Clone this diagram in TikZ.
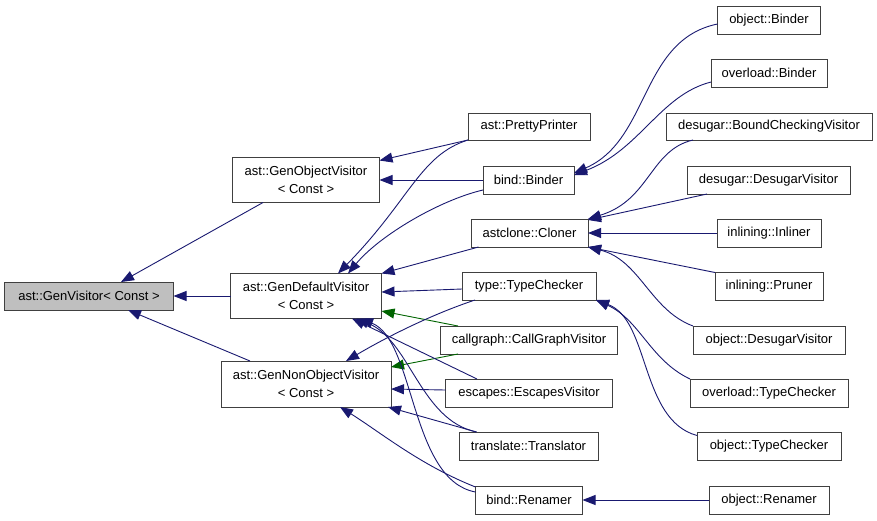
\documentclass[tikz,border=0pt]{standalone}
\usepackage{fontspec}
\setmainfont{Liberation Sans}
\usetikzlibrary{arrows.meta}
\definecolor{edgeblue}{HTML}{191970}
\definecolor{edgegreen}{HTML}{006400}
\definecolor{boxline}{HTML}{404040}
\definecolor{boxfill}{HTML}{BFBFBF}
\begin{document}
\begin{tikzpicture}[x=1pt,y=-1pt,
  cls/.style={draw=boxline,line width=1pt,fill=white,inner sep=0pt,outer sep=0pt,
    align=center,font=\fontsize{13}{17.5}\selectfont,minimum height=28pt},
  root/.style={cls,fill=boxfill},
  edge/.style={draw=edgeblue,line width=0.9pt,-{Triangle[length=13pt,width=10pt]}},
  gedge/.style={edge,draw=edgegreen,-{Triangle[length=13pt,width=10pt]}}]
\useasboundingbox (0,0) rectangle (877,520);
% level 0
\node[root,minimum width=169pt] (gv) at (89,296) {ast::GenVisitor{\textless} Const \textgreater};
% level 1
\node[cls,minimum width=147pt,minimum height=45pt] (gov) at (306,180) {ast::GenObjectVisitor\\\textless{} Const \textgreater};
\node[cls,minimum width=151pt,minimum height=45pt] (gdv) at (306,296) {ast::GenDefaultVisitor\\\textless{} Const \textgreater};
\node[cls,minimum width=170pt,minimum height=46pt] (gnov) at (306,384) {ast::GenNonObjectVisitor\\\textless{} Const \textgreater};
% level 2
\node[cls,minimum width=122pt,minimum height=27pt] (pp) at (529,126.5) {ast::PrettyPrinter};
\node[cls,minimum width=91pt] (bb) at (528.5,180) {bind::Binder};
\node[cls,minimum width=117pt] (cl) at (529.5,233) {astclone::Cloner};
\node[cls,minimum width=134pt] (tc) at (529,286) {type::TypeChecker};
\node[cls,minimum width=177pt] (cg) at (529,340) {callgraph::CallGraphVisitor};
\node[cls,minimum width=167pt] (ev) at (529,393) {escapes::EscapesVisitor};
\node[cls,minimum width=139pt] (tr) at (528.5,446) {translate::Translator};
\node[cls,minimum width=107pt] (rn) at (529,500) {bind::Renamer};
% level 3
\node[cls,minimum width=103pt] (ob) at (769,20) {object::Binder};
\node[cls,minimum width=116pt] (ovb) at (769,73) {overload::Binder};
\node[cls,minimum width=206pt,minimum height=27pt] (bcv) at (769,126.5) {desugar::BoundCheckingVisitor};
\node[cls,minimum width=163pt] (dv) at (768.5,180) {desugar::DesugarVisitor};
\node[cls,minimum width=104pt] (inl) at (769,233) {inlining::Inliner};
\node[cls,minimum width=108pt] (pr) at (769,286.5) {inlining::Pruner};
\node[cls,minimum width=152pt] (odv) at (769,340) {object::DesugarVisitor};
\node[cls,minimum width=158pt] (otc) at (769,393) {overload::TypeChecker};
\node[cls,minimum width=144pt] (otc2) at (769,446.5) {object::TypeChecker};
\node[cls,minimum width=120pt] (orn) at (769,500) {object::Renamer};
% edges to GenVisitor
\draw[edge] ([xshift=-43pt]gov.south) -- ([xshift=32pt]gv.north);
\draw[edge] (gdv.west) -- (gv.east);
\draw[edge] ([xshift=-56pt]gnov.north) -- ([xshift=39pt]gv.south);
% edges to GenObjectVisitor / GenDefaultVisitor / GenNonObjectVisitor
\draw[edge] (pp.south west) -- ([yshift=-3pt]gov.north east);
\draw[edge] (pp.south west) .. controls (420,155) and (410,200) .. ([xshift=32pt]gdv.north);
\draw[edge] (bb.west) -- (gov.east);
\draw[edge] ([yshift=-10pt]bb.west) .. controls (440,200) and (380,235) .. ([xshift=42pt]gdv.north);
\draw[edge] ([xshift=-51pt]cl.south) -- (gdv.north east);
\draw[edge] ([yshift=-3pt]tc.west) -- ([yshift=4pt]gdv.east);
\draw[gedge] ([xshift=-71pt]cg.north) -- ([yshift=-15pt]gdv.east);
\draw[gedge] ([xshift=-71pt]cg.south) -- ([yshift=-6pt]gnov.north east);
\draw[edge] ([xshift=-54pt]tc.south) .. controls (430,315) and (385,338) .. ([xshift=40pt]gnov.north);
\draw[edge] ([xshift=-52pt]ev.north) -- ([xshift=46pt]gdv.south);
\draw[edge] ([yshift=3pt]ev.west) -- ([yshift=-5pt]gnov.east);
\draw[edge] ([xshift=-52pt]tr.north) .. controls (420,420) and (410,340) .. ([xshift=50pt]gdv.south);
\draw[edge] ([xshift=-52pt]tr.north) -- ([xshift=-3pt]gnov.south east);
\draw[edge] ([yshift=8pt]rn.west) .. controls (410,480) and (415,340) .. ([xshift=54pt]gdv.south);
\draw[edge] ([yshift=13pt]rn.west) .. controls (420,465) and (380,432) .. ([xshift=34pt]gnov.south);
% right side edges
\draw[edge] ([yshift=-4pt]ob.west) .. controls (640,40) and (650,140) .. ([yshift=7pt]bb.east);
\draw[edge] ([yshift=-9pt]ovb.west) .. controls (660,95) and (640,150) .. ([yshift=5pt]bb.east);
\draw[edge] ([xshift=-76pt]bcv.south) .. controls (650,150) and (650,200) .. (cl.north east);
\draw[edge] ([xshift=-61.5pt]dv.south) -- ([yshift=-1pt]cl.north east);
\draw[edge] (inl.west) -- (cl.east);
\draw[edge] (pr.north west) -- (cl.south east);
\draw[edge] (odv.north west) .. controls (650,310) and (640,260) .. (cl.south east);
\draw[edge] (otc.north west) .. controls (650,360) and (640,320) .. (tc.south east);
\draw[edge] ([yshift=-3pt]otc2.north west) .. controls (640,420) and (650,320) .. (tc.south east);
\draw[edge] (orn.west) -- (rn.east);
\end{tikzpicture}
\end{document}
